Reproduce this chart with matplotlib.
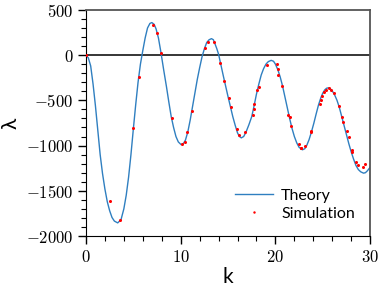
import matplotlib
matplotlib.use("Agg")
import matplotlib.pyplot as plt
import matplotlib.ticker as mticker
import numpy as np

plt.rcParams['mathtext.fontset'] = 'cm'
plt.rcParams['font.family'] = ['Lato', 'DejaVu Sans']

# theory curve
theory_k = [0.0, 0.25, 0.5, 0.75, 1.0, 1.25, 1.5, 1.75, 2.0, 2.25, 2.5, 2.75, 3.0, 3.35, 3.7, 4.0,
            4.25, 4.5, 4.75, 5.0, 5.25, 5.5, 5.75, 6.0, 6.25, 6.5, 6.75, 6.95, 7.2, 7.4, 7.65,
            7.9, 8.2, 8.5, 8.75, 9.0, 9.25, 9.5, 9.75, 10.05, 10.3, 10.5, 10.75, 11.0, 11.25,
            11.5, 11.75, 12.0, 12.25, 12.5, 12.75, 13.0, 13.25, 13.45, 13.6, 13.8, 14.0, 14.25,
            14.5, 14.75, 15.0, 15.25, 15.5, 15.75, 16.0, 16.2, 16.4, 16.65, 16.9, 17.2, 17.5,
            17.75, 18.0, 18.25, 18.5, 18.75, 19.0, 19.25, 19.55, 19.8, 20.0, 20.25, 20.5, 20.75,
            21.0, 21.25, 21.5, 21.75, 22.0, 22.25, 22.5, 22.85, 23.1, 23.3, 23.55, 23.8, 24.05,
            24.3, 24.55, 24.8, 25.0, 25.2, 25.4, 25.6, 25.8, 26.0, 26.25, 26.5, 26.75, 27.0,
            27.25, 27.5, 27.75, 28.0, 28.25, 28.5, 28.75, 29.0, 29.3, 29.5, 29.7, 30.0]
theory_lam = [0, -30, -120, -320, -560, -830, -1100, -1310, -1480, -1620, -1720, -1795, -1835,
              -1855, -1820, -1700, -1550, -1350, -1100, -820, -550, -300, -100, 50, 190, 300,
              350, 360, 340, 290, 190, 40, -160, -350, -520, -680, -800, -900, -960, -990, -975,
              -940, -850, -720, -570, -420, -270, -140, -20, 70, 140, 170, 182, 170, 130, 75,
              10, -110, -230, -345, -460, -570, -680, -775, -860, -900, -915, -900, -850, -770,
              -680, -560, -430, -320, -220, -150, -100, -72, -58, -68, -100, -160, -240, -340,
              -460, -580, -700, -810, -900, -970, -1020, -1047, -1035, -1000, -935, -850, -755,
              -650, -550, -470, -420, -385, -366, -362, -372, -395, -440, -500, -580, -680,
              -780, -880, -980, -1070, -1150, -1220, -1265, -1290, -1305, -1300, -1280, -1240]

# simulation points
sim_k = [0.0, 2.50, 3.56, 5.00, 5.63, 7.11, 7.55, 7.95, 9.05, 10.10, 10.42, 10.67, 11.20,
         12.57, 12.85, 13.52, 14.18, 14.60, 15.07, 15.31, 15.91, 16.12, 16.83, 17.60, 17.74,
         17.77, 18.09, 18.30, 19.14, 20.14, 20.27, 20.24, 20.73, 21.33, 21.54, 21.68, 22.46,
         22.67, 22.74, 23.09, 23.73, 23.78, 24.67, 24.78, 24.92, 25.10, 25.30, 25.62, 25.84,
         26.19, 26.68, 27.03, 27.17, 27.60, 27.74, 28.09, 28.12, 28.54, 28.72, 29.20, 29.49]
sim_lam = [0, -1611, -1825, -808, -247, 328, 243, 22, -690, -985, -966, -852, -616,
           74, 140, 147, -92, -284, -479, -579, -815, -881, -848, -667, -594,
           -542, -387, -357, -107, -100, -155, -218, -347, -660, -679, -789, -985,
           -1022, -1029, -1003, -852, -835, -538, -494, -450, -409, -385, -365, -387,
           -424, -561, -679, -741, -837, -900, -1047, -1073, -1184, -1213, -1242, -1206]

fig = plt.figure(figsize=(3.82, 2.91), dpi=100)
ax = fig.add_axes([0.225, 0.189, 0.744, 0.777])

ax.axhline(0, color='black', lw=1.1, zorder=1)
ax.plot(theory_k, theory_lam, color='#2f7fc0', lw=1.0, label='Theory', zorder=2)
ax.plot(sim_k, sim_lam, 'o', color='red', ms=2.2, mew=0, label='Simulation', zorder=3)

ax.set_xlim(0, 30)
ax.set_ylim(-2000, 500)
ax.xaxis.set_major_locator(mticker.MultipleLocator(10))
ax.xaxis.set_minor_locator(mticker.MultipleLocator(2))
ax.yaxis.set_major_locator(mticker.MultipleLocator(500))
ax.yaxis.set_minor_locator(mticker.MultipleLocator(100))
cm_fmt = mticker.FuncFormatter(lambda v, p: '$%d$' % v)
ax.xaxis.set_major_formatter(cm_fmt)
ax.yaxis.set_major_formatter(cm_fmt)
ax.tick_params(which='major', direction='out', length=6, width=1, labelsize=12, pad=3)
ax.tick_params(which='minor', direction='out', length=3.5, width=0.8)

for side in ['left', 'bottom']:
    ax.spines[side].set_color('black')
for side in ['top', 'right']:
    ax.spines[side].set_color('#555555')
    ax.spines[side].set_linewidth(1.3)

ax.set_xlabel('k', fontsize=15, labelpad=2)
ax.set_ylabel('λ', fontsize=15, labelpad=4)

ax.legend(loc='lower right', frameon=False, fontsize=11.5, handlelength=2.4,
          handletextpad=0.5, labelspacing=0.25, borderaxespad=0.55, markerscale=0.8)

fig.savefig('out.png', dpi=100)
